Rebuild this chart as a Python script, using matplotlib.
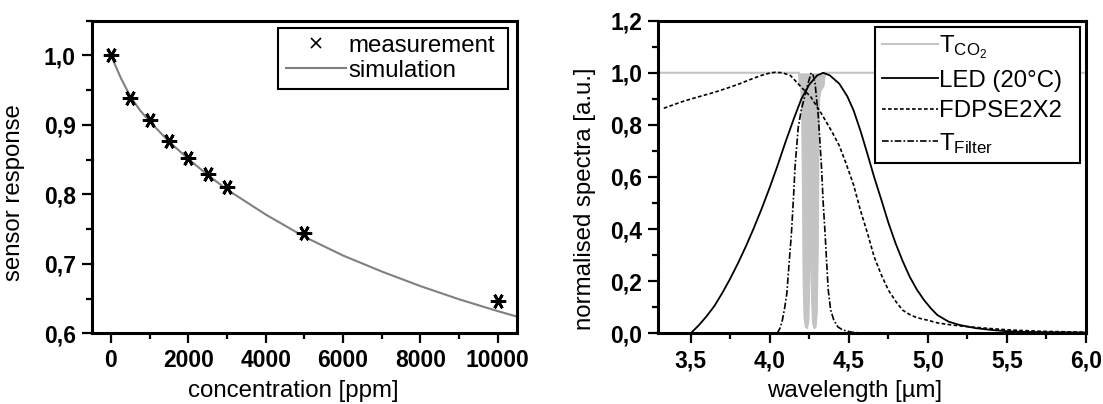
import matplotlib
matplotlib.use("Agg")
import matplotlib.pyplot as plt
from matplotlib.lines import Line2D
from matplotlib.ticker import MultipleLocator

plt.rcParams['font.family'] = ['Liberation Sans', 'DejaVu Sans']
plt.rcParams['mathtext.fontset'] = 'custom'
plt.rcParams['mathtext.rm'] = 'Liberation Sans'
plt.rcParams['mathtext.it'] = 'Liberation Sans'

# ---------------- data: left panel ----------------
meas_conc = [0, 500, 1000, 1500, 2000, 2500, 3000, 5000, 10000]
meas_resp = [1.000, 0.939, 0.907, 0.877, 0.852, 0.830, 0.810, 0.745, 0.646]

sim_conc = [0, 250, 500, 750, 1000, 1500, 2000, 2500, 3000, 4000, 5000,
            6000, 7000, 8000, 9000, 10000, 10500]
sim_resp = [1.000, 0.968, 0.941, 0.921, 0.905, 0.876, 0.851, 0.828, 0.807,
            0.771, 0.739, 0.712, 0.689, 0.668, 0.649, 0.632, 0.624]

left_xticks = [0, 2000, 4000, 6000, 8000, 10000]
left_xticklabels = ['0', '2000', '4000', '6000', '8000', '10000']
left_yticks = [0.6, 0.7, 0.8, 0.9, 1.0]
left_yticklabels = ['0,6', '0,7', '0,8', '0,9', '1,0']

# ---------------- data: right panel ----------------
co2_wl = [3.30, 4.185, 4.19, 4.196, 4.20, 4.205, 4.21, 4.214, 4.22, 4.228,
          4.236, 4.244, 4.25, 4.256, 4.26, 4.264, 4.268, 4.274, 4.282, 4.29,
          4.297, 4.303, 4.308, 4.312, 4.32, 4.33, 4.34, 4.345, 4.35, 6.00]
co2_t = [1.0, 1.0, 0.95, 0.97, 0.93, 0.85, 0.55, 0.20, 0.06, 0.025,
         0.02, 0.05, 0.20, 0.38, 0.39, 0.30, 0.12, 0.04, 0.02, 0.025,
         0.08, 0.30, 0.70, 0.90, 0.93, 0.94, 0.95, 0.98, 1.0, 1.0]

led_wl = [3.50, 3.55, 3.60, 3.65, 3.70, 3.75, 3.80, 3.85, 3.90, 3.95, 4.00,
          4.05, 4.10, 4.15, 4.20, 4.25, 4.30, 4.338, 4.38, 4.44, 4.49, 4.53,
          4.575, 4.617, 4.66, 4.707, 4.75, 4.796, 4.84, 4.885, 4.93, 4.975,
          5.02, 5.06, 5.13, 5.20, 5.30, 5.40, 5.50, 5.62, 5.80, 6.00]
led_v = [0.0, 0.03, 0.065, 0.105, 0.155, 0.21, 0.27, 0.335, 0.405, 0.48,
         0.56, 0.645, 0.735, 0.82, 0.9, 0.955, 0.99, 1.0, 0.99, 0.958, 0.91,
         0.856, 0.775, 0.69, 0.60, 0.51, 0.425, 0.345, 0.278, 0.217, 0.168,
         0.128, 0.095, 0.07, 0.045, 0.032, 0.02, 0.013, 0.008, 0.005, 0.004,
         0.003]

fd_wl = [3.33, 3.45, 3.545, 3.65, 3.75, 3.81, 3.88, 3.947, 4.0, 4.036, 4.08,
         4.13, 4.17, 4.215, 4.26, 4.327, 4.394, 4.44, 4.483, 4.53, 4.573,
         4.62, 4.66, 4.705, 4.75, 4.80, 4.84, 4.885, 4.93, 5.00, 5.06,
         5.15, 5.24, 5.38, 5.51, 5.70, 5.85, 6.00]
fd_v = [0.864, 0.89, 0.907, 0.925, 0.945, 0.958, 0.975, 0.99, 0.999, 1.002,
        1.0, 0.99, 0.964, 0.935, 0.907, 0.843, 0.773, 0.72, 0.651, 0.57,
        0.473, 0.38, 0.294, 0.225, 0.166, 0.12, 0.089, 0.072, 0.06, 0.05,
        0.04, 0.032, 0.026, 0.019, 0.013, 0.008, 0.006, 0.004]

flt_wl = [4.047, 4.065, 4.08, 4.095, 4.108, 4.12, 4.137, 4.15, 4.16, 4.18,
          4.20, 4.215, 4.24, 4.262, 4.275, 4.287, 4.297, 4.304, 4.315, 4.327,
          4.338, 4.35, 4.36, 4.37, 4.385, 4.405, 4.43, 4.46, 4.52, 4.60]
flt_v = [0.0, 0.02, 0.051, 0.10, 0.153, 0.25, 0.383, 0.52, 0.64, 0.79,
         0.86, 0.894, 0.955, 1.0, 0.99, 0.958, 0.894, 0.856, 0.76, 0.64,
         0.50, 0.383, 0.27, 0.166, 0.09, 0.051, 0.025, 0.013, 0.004, 0.0]

right_xticks = [3.5, 4.0, 4.5, 5.0, 5.5, 6.0]
right_xticklabels = ['3,5', '4,0', '4,5', '5,0', '5,5', '6,0']
right_yticks = [0.0, 0.2, 0.4, 0.6, 0.8, 1.0, 1.2]
right_yticklabels = ['0,0', '0,2', '0,4', '0,6', '0,8', '1,0', '1,2']

# ---------------- figure ----------------
fig = plt.figure(figsize=(11.03, 4.04), dpi=100)
ax1 = fig.add_axes([0.0831, 0.175, 0.3856, 0.7738])
ax2 = fig.add_axes([0.5968, 0.175, 0.3878, 0.7738])

TICK_FS = 16.5
LABEL_FS = 17.3
LEG_FS = 17.3
GRAY_SIM = '#808080'
GRAY_CO2 = '#c4c4c4'
FD_STYLE = (0, (2.2, 1.4))
FLT_STYLE = (0, (4, 1.3, 1, 1.3))


def style(ax):
    for s in ax.spines.values():
        s.set_linewidth(2.2)
    ax.tick_params(which='major', direction='out', length=7.5, width=1.6,
                   labelsize=TICK_FS, pad=4, top=False, right=False)
    ax.tick_params(which='minor', direction='out', length=4.5, width=1.6,
                   top=False, right=False)
    for lab in ax.get_xticklabels() + ax.get_yticklabels():
        lab.set_fontweight('bold')


# left panel
ax1.plot(sim_conc, sim_resp, color=GRAY_SIM, lw=1.5, zorder=2)
ax1.plot(meas_conc, meas_resp, linestyle='none', marker=(6, 2, 90),
         markersize=11, markeredgewidth=2.0, color='black', zorder=3)
ax1.set_xlim(-500, 10500)
ax1.set_ylim(0.6, 1.05)
ax1.set_xticks(left_xticks)
ax1.set_xticklabels(left_xticklabels)
ax1.set_yticks(left_yticks)
ax1.set_yticklabels(left_yticklabels)
ax1.xaxis.set_minor_locator(MultipleLocator(1000))
ax1.yaxis.set_minor_locator(MultipleLocator(0.05))
style(ax1)
ax1.set_xlabel('concentration [ppm]', fontsize=LABEL_FS)
ax1.set_ylabel('sensor response', fontsize=LABEL_FS)
ax1.xaxis.set_label_coords(0.475, -0.148)
ax1.yaxis.set_label_coords(-0.157, 0.45)

h_meas = Line2D([], [], linestyle='none', marker='x', markersize=7,
                markeredgewidth=1.2, color='black')
h_sim = Line2D([], [], color=GRAY_SIM, lw=1.5)
leg1 = ax1.legend([h_meas, h_sim], ['measurement', 'simulation'],
                  loc='upper left', bbox_to_anchor=(0.439, 0.5, 0.539, 0.478),
                  mode='expand', borderaxespad=0, fontsize=LEG_FS,
                  frameon=True, fancybox=False, edgecolor='black',
                  framealpha=1, handlelength=2.5, handletextpad=0.1,
                  labelspacing=0.12, borderpad=0.3)
leg1.get_frame().set_linewidth(1.5)

# right panel
ax2.plot(co2_wl, co2_t, color=GRAY_CO2, lw=1.5, zorder=1)
ax2.fill_between(co2_wl, co2_t, 1.0, color=GRAY_CO2, lw=0, zorder=1)
ax2.plot(led_wl, led_v, color='black', lw=1.3, zorder=3)
ax2.plot(fd_wl, fd_v, color='black', lw=1.2, linestyle=FD_STYLE, zorder=3)
ax2.plot(flt_wl, flt_v, color='black', lw=1.2, linestyle=FLT_STYLE, zorder=3)
ax2.set_xlim(3.295, 6.0)
ax2.set_ylim(0.0, 1.2)
ax2.set_xticks(right_xticks)
ax2.set_xticklabels(right_xticklabels)
ax2.set_yticks(right_yticks)
ax2.set_yticklabels(right_yticklabels)
ax2.xaxis.set_minor_locator(MultipleLocator(0.25))
ax2.yaxis.set_minor_locator(MultipleLocator(0.1))
style(ax2)
ax2.set_xlabel('wavelength [µm]', fontsize=LABEL_FS)
ax2.set_ylabel('normalised spectra [a.u.]', fontsize=LABEL_FS)
ax2.xaxis.set_label_coords(0.458, -0.148)
ax2.yaxis.set_label_coords(-0.146, 0.431)

h_co2 = Line2D([], [], color=GRAY_CO2, lw=1.5)
h_led = Line2D([], [], color='black', lw=1.3)
h_fd = Line2D([], [], color='black', lw=1.2, linestyle=FD_STYLE)
h_flt = Line2D([], [], color='black', lw=1.2, linestyle=FLT_STYLE)
leg2 = ax2.legend([h_co2, h_led, h_fd, h_flt],
                  [r'T$_{\mathregular{CO_2}}$', 'LED (20°C)', 'FDPSE2X2',
                   r'T$_{\mathregular{Filter}}$'],
                  loc='upper left', bbox_to_anchor=(0.507, 0.3, 0.479, 0.681),
                  mode='expand', borderaxespad=0, fontsize=LEG_FS,
                  frameon=True, fancybox=False, edgecolor='black',
                  framealpha=1, handlelength=2.3, handletextpad=0.07,
                  labelspacing=0.35, borderpad=0.3)
leg2.get_frame().set_linewidth(1.5)

fig.savefig('out.png', dpi=100)
